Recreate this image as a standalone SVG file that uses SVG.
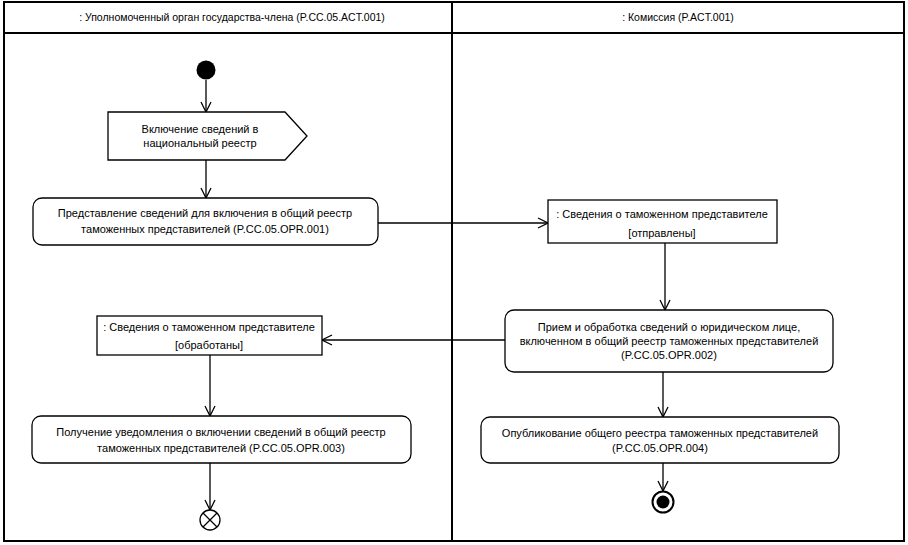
<svg xmlns="http://www.w3.org/2000/svg" width="908" height="545" viewBox="0 0 908 545">
<style>
text{font-family:"Liberation Sans","DejaVu Sans",Arial,sans-serif;font-size:11px;fill:#000;text-anchor:middle}
.hdr{font-size:10.5px}
.frame{fill:none;stroke:#000;stroke-width:2}
.node{fill:#fff;stroke:#000;stroke-width:1.3}
.edge{fill:none;stroke:#000;stroke-width:1.3;marker-end:url(#arr)}
</style>
<defs>
<marker id="arr" viewBox="0 0 12 12" refX="11" refY="6" markerWidth="12" markerHeight="12" markerUnits="userSpaceOnUse" orient="auto">
<path d="M1,1 L11,6 L1,11" fill="none" stroke="#000" stroke-width="1.3"/>
</marker>
</defs>
<rect width="908" height="545" fill="#fff"/>
<g id="swimlanes">
<rect class="frame" x="4" y="2" width="900" height="539"/>
<line class="frame" x1="4" y1="33" x2="904" y2="33"/>
<line class="frame" x1="452" y1="2" x2="452" y2="541"/>
<text class="hdr" x="232" y="21">: Уполномоченный орган государства-члена  (P.CC.05.ACT.001)</text>
<text class="hdr" x="678" y="21">: Комиссия (P.ACT.001)</text>
</g>
<g id="connectors">
<path class="edge" d="M206,80 V112"/>
<path class="edge" d="M206,160 V198"/>
<path class="edge" d="M378,223 H548"/>
<path class="edge" d="M665,243 V310"/>
<path class="edge" d="M505,340 H322"/>
<path class="edge" d="M210,355 V416"/>
<path class="edge" d="M210,463 V510"/>
<path class="edge" d="M663,372 V417"/>
<path class="edge" d="M663,463 V491"/>
</g>
<g id="start">
<circle cx="206" cy="70" r="9.5" fill="#000"/>
</g>
<g id="signal">
<path class="node" d="M108,112 H285 L307,136 L285,160 H108 Z"/>
<text x="200" y="133">Включение сведений в</text>
<text x="200" y="147">национальный реестр</text>
</g>
<g id="act1">
<rect class="node" x="33" y="198" width="345" height="47" rx="9"/>
<text x="205" y="217">Представление сведений для включения в общий реестр</text>
<text x="205" y="233">таможенных представителей (P.CC.05.OPR.001)</text>
</g>
<g id="obj1">
<rect class="node" x="548" y="200" width="229" height="43"/>
<text x="662" y="218">: Сведения о таможенном представителе</text>
<text x="662" y="237">[отправлены]</text>
</g>
<g id="act2">
<rect class="node" x="505" y="310" width="328" height="62" rx="9"/>
<text x="669" y="331">Прием и обработка сведений о юридическом лице,</text>
<text x="669" y="345">включенном в общий реестр таможенных представителей</text>
<text x="669" y="359">(P.CC.05.OPR.002)</text>
</g>
<g id="obj2">
<rect class="node" x="97" y="316" width="225" height="39"/>
<text x="209" y="331">: Сведения о таможенном представителе</text>
<text x="209" y="349">[обработаны]</text>
</g>
<g id="act3">
<rect class="node" x="32" y="416" width="379" height="47" rx="9"/>
<text x="221" y="436">Получение уведомления о включении сведений в общий реестр</text>
<text x="221" y="452">таможенных представителей (P.CC.05.OPR.003)</text>
</g>
<g id="flowfinal">
<circle class="node" cx="210" cy="520" r="10"/>
<path d="M203,513 L217,527 M217,513 L203,527" stroke="#000" stroke-width="1.3"/>
</g>
<g id="act4">
<rect class="node" x="481" y="417" width="358" height="46" rx="9"/>
<text x="660" y="437">Опубликование общего реестра таможенных представителей</text>
<text x="660" y="452">(P.CC.05.OPR.004)</text>
</g>
<g id="final">
<circle cx="663" cy="502" r="10.5" fill="#fff" stroke="#000" stroke-width="2"/>
<circle cx="663" cy="502" r="6.5" fill="#000"/>
</g>
</svg>
